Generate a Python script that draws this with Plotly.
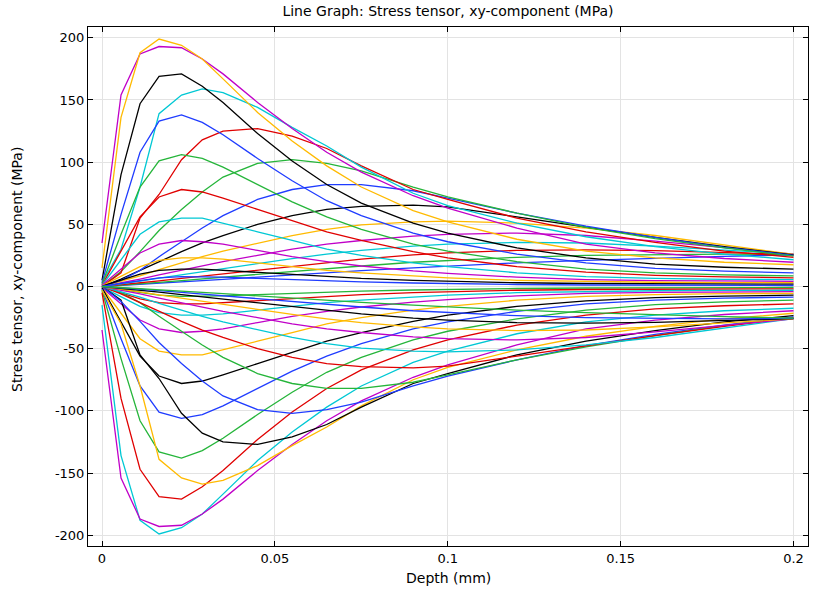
import plotly.graph_objects as go

# Depth sample points (mm)
depth = [0, 0.0055, 0.011, 0.0165, 0.023, 0.029, 0.035, 0.045, 0.055, 0.065,
         0.075, 0.09, 0.1, 0.12, 0.14, 0.16, 0.18, 0.2]

# Stress tensor xy-component (MPa), one list per line, in plotting order
s00 = [0, 0.8, 1.6, 2.5, 3.6, 4.7, 5.8, 7.6, 9.4, 11, 12.7, 15, 16.5, 19, 21, 22.8, 24.2, 25.5]
s01 = [0, 1, 2.2, 3.3, 4.8, 6.2, 7.6, 10, 12.3, 14.5, 16.5, 19.5, 21, 23.5, 25, 25.8, 26, 25.7]
s02 = [0, 1.4, 3, 4.6, 6.5, 8.3, 10.2, 13.2, 16.5, 19.5, 22, 25.5, 27, 29, 29.5, 28.8, 27.5, 25.9]
s03 = [0, 2, 4.4, 6.7, 9.4, 12, 14.5, 18.5, 22.5, 26, 29, 32.5, 34, 35.5, 35, 32.5, 29.5, 26]
s04 = [0, 2.8, 6, 9.3, 13, 16.5, 20, 25, 30, 34, 37, 40.5, 42, 43, 41, 36.5, 31, 26]
s05 = [0, 4, 8.5, 13.5, 19, 24, 28.5, 35, 41, 46, 49.5, 52, 52.5, 51, 47, 41, 33.5, 25.8]
s06 = [0, 6, 13, 20, 28, 35, 41, 50, 57, 62, 64.5, 65.5, 64, 56, 47.5, 39.5, 32, 25.5]
s07 = [0, 5, 13, 24, 36, 47, 57, 70, 78, 82, 82, 77, 71, 59, 48.5, 39.5, 31.5, 25]
s08 = [0, 12, 28, 45, 62, 76, 88, 99, 102, 99, 93, 80, 72, 59, 47.5, 38.5, 31, 24.5]
s09 = [0, 11, 55, 74, 102, 118, 125, 127, 121, 111, 97, 78, 70, 55, 44, 35.5, 28.5, 23.5]
s10 = [3, 30, 80, 139, 154, 159, 156, 144, 128, 113, 96, 75, 65, 51, 40, 32, 26, 21.5]
s11 = [35, 154, 187, 193, 192, 183, 171, 148, 127, 108, 92, 73, 63, 47, 34, 27, 22.5, 19.5]
s12 = [15, 136, 188, 199, 194, 183, 167, 140, 117, 97, 80, 61, 52, 38, 28.5, 23, 19.5, 17.5]
s13 = [5, 90, 147, 169, 171, 161, 148, 123, 101, 82, 67, 51, 43, 31, 23, 18, 15.5, 14]
s14 = [3, 58, 108, 133, 138, 132, 122, 103, 85, 69, 57, 43, 36, 26, 19, 14.5, 12.3, 11]
s15 = [2, 42, 80, 101, 106, 103, 96, 82, 68, 56, 46, 34, 28.5, 20, 14, 11, 9.3, 8.5]
s16 = [1, 28, 56, 72, 78, 76, 71, 62, 53, 44, 37, 28, 23, 16, 11.5, 9, 7.7, 7]
s17 = [1, 22, 42, 52, 55, 55, 51, 44, 37, 30, 25, 19, 16, 11, 8, 6.5, 5.8, 5.5]
s18 = [1, 14, 27, 34, 37, 36, 34, 29, 24, 20, 16.5, 12.5, 10.5, 7.5, 5.6, 4.8, 4.4, 4.2]
s19 = [0.5, 8, 16, 21, 23, 23, 22, 19, 16, 13, 11, 8.3, 7, 5, 4, 3.4, 3.1, 3]
s20 = [0.3, 5, 10, 13, 14, 14, 13, 11.5, 9.5, 8, 6.5, 5, 4.2, 3, 2.4, 2.1, 2, 1.9]
s21 = [0.2, 2.5, 5, 7, 8, 8, 7.5, 6.5, 5.5, 4.5, 3.7, 2.8, 2.3, 1.6, 1.2, 1, 0.9, 0.8]
s22 = [-0.2, -2.5, -5, -7, -8, -8, -7.5, -6.5, -5.5, -4.5, -3.7, -2.8, -2.3, -1.6, -1.2, -1, -0.9, -0.8]
s23 = [-0.3, -5, -10, -13, -14, -14, -13, -11.5, -9.5, -8, -6.5, -5, -4.2, -3, -2.4, -2.1, -2, -1.9]
s24 = [-0.5, -8, -16, -21, -23, -23, -22, -19, -16, -13, -11, -8.3, -7, -5, -4, -3.4, -3.1, -3]
s25 = [-1, -14, -27, -34, -37, -36, -34, -29, -24, -20, -16.5, -12.5, -10.5, -7.5, -5.6, -4.8, -4.4, -4.2]
s26 = [-1, -22, -42, -52, -55, -55, -51, -44, -37, -30, -25, -19, -16, -11, -8, -6.5, -5.8, -5.5]
s27 = [-1, -28, -56, -72, -78, -76, -71, -62, -53, -44, -37, -28, -23, -16, -11.5, -9, -7.7, -7]
s28 = [-2, -42, -80, -101, -106, -103, -96, -82, -68, -56, -46, -34, -28.5, -20, -14, -11, -9.3, -8.5]
s29 = [-3, -58, -108, -133, -138, -132, -122, -103, -85, -69, -57, -43, -36, -26, -19, -14.5, -12.3, -11]
s30 = [-5, -90, -147, -169, -171, -161, -148, -123, -101, -82, -67, -51, -43, -31, -23, -18, -15.5, -14]
s31 = [-15, -136, -188, -199, -194, -183, -167, -140, -117, -97, -80, -61, -52, -38, -28.5, -23, -19.5, -17.5]
s32 = [-35, -154, -187, -193, -192, -183, -171, -148, -127, -108, -92, -73, -63, -47, -34, -27, -22.5, -19.5]
s33 = [-3, -30, -80, -139, -154, -159, -156, -144, -128, -113, -96, -75, -65, -51, -40, -32, -26, -21.5]
s34 = [0, -11, -55, -74, -102, -118, -125, -127, -121, -111, -97, -78, -70, -55, -44, -35.5, -28.5, -23.5]
s35 = [0, -12, -28, -45, -62, -76, -88, -99, -102, -99, -93, -80, -72, -59, -47.5, -38.5, -31, -24.5]
s36 = [0, -5, -13, -24, -36, -47, -57, -70, -78, -82, -82, -77, -71, -59, -48.5, -39.5, -31.5, -25]
s37 = [0, -6, -13, -20, -28, -35, -41, -50, -57, -62, -64.5, -65.5, -64, -56, -47.5, -39.5, -32, -25.5]
s38 = [0, -4, -8.5, -13.5, -19, -24, -28.5, -35, -41, -46, -49.5, -52, -52.5, -51, -47, -41, -33.5, -25.8]
s39 = [0, -2.8, -6, -9.3, -13, -16.5, -20, -25, -30, -34, -37, -40.5, -42, -43, -41, -36.5, -31, -26]
s40 = [0, -2, -4.4, -6.7, -9.4, -12, -14.5, -18.5, -22.5, -26, -29, -32.5, -34, -35.5, -35, -32.5, -29.5, -26]
s41 = [0, -1.4, -3, -4.6, -6.5, -8.3, -10.2, -13.2, -16.5, -19.5, -22, -25.5, -27, -29, -29.5, -28.8, -27.5, -25.9]
s42 = [0, -1, -2.2, -3.3, -4.8, -6.2, -7.6, -10, -12.3, -14.5, -16.5, -19.5, -21, -23.5, -25, -25.8, -26, -25.7]
s43 = [0, -0.8, -1.6, -2.5, -3.6, -4.7, -5.8, -7.6, -9.4, -11, -12.7, -15, -16.5, -19, -21, -22.8, -24.2, -25.5]

series = [s00, s01, s02, s03, s04, s05, s06, s07, s08, s09, s10, s11, s12, s13, s14,
          s15, s16, s17, s18, s19, s20, s21, s22, s23, s24, s25, s26, s27, s28, s29,
          s30, s31, s32, s33, s34, s35, s36, s37, s38, s39, s40, s41, s42, s43]

# colour cycle (blue, green, red, cyan, magenta, yellow, black)
cycle = ["#1f3cff", "#25b53a", "#e00000", "#00c8d4", "#c000c8", "#ffba00", "#000000"]

x_ticks = [0, 0.05, 0.1, 0.15, 0.2]
x_labels = ["0", "0.05", "0.1", "0.15", "0.2"]
y_ticks = [-200, -150, -100, -50, 0, 50, 100, 150, 200]
y_labels = ["-200", "-150", "-100", "-50", "0", "50", "100", "150", "200"]

FONT = "DejaVu Sans"

fig = go.Figure()
for i, ys in enumerate(series):
    fig.add_trace(go.Scatter(
        x=depth, y=ys, mode="lines",
        line=dict(color=cycle[i % 7], width=1.3),
        showlegend=False, hoverinfo="skip"))

axis_common = dict(
    showline=True, linecolor="black", linewidth=1, mirror="allticks",
    ticks="inside", ticklen=5, tickcolor="black", tickwidth=1,
    showgrid=True, gridcolor="#e3e3e3", gridwidth=1, zeroline=False,
    tickfont=dict(family=FONT, size=13, color="black"), automargin=False,
)

# plot area in pixels: left 88, right 808, top 27, bottom 546
L, R, T, B = 88, 808, 27, 546
W, H = 813, 593

fig.update_layout(
    width=W, height=H,
    margin=dict(l=L, r=W - R, t=T, b=H - B),
    paper_bgcolor="white", plot_bgcolor="white",
    font=dict(family=FONT, size=13, color="black"),
    title=dict(text="Line Graph: Stress tensor, xy-component (MPa)",
               x=0.5, xref="paper", y=1 - 11 / H, yref="container",
               yanchor="middle", font=dict(family=FONT, size=14, color="black")),
    xaxis=dict(range=[-0.00405, 0.2042], tickvals=x_ticks, ticktext=x_labels,
               **axis_common),
    yaxis=dict(range=[-208.7, 208.7], tickvals=y_ticks, ticktext=y_labels,
               **axis_common),
    annotations=[
        dict(text="Depth (mm)", xref="paper", yref="paper", x=0.5,
             y=(B - 578) / (B - T), xanchor="center", yanchor="middle",
             showarrow=False, font=dict(family=FONT, size=14, color="black")),
        dict(text="Stress tensor, xy-component (MPa)", xref="paper", yref="paper",
             x=(17 - L) / (R - L), y=(B - 270) / (B - T), textangle=-90,
             xanchor="center", yanchor="middle", showarrow=False,
             font=dict(family=FONT, size=14, color="black")),
    ],
)

fig.write_html("out.html", config={"displayModeBar": False},
               post_script="document.body.style.margin='0';")
